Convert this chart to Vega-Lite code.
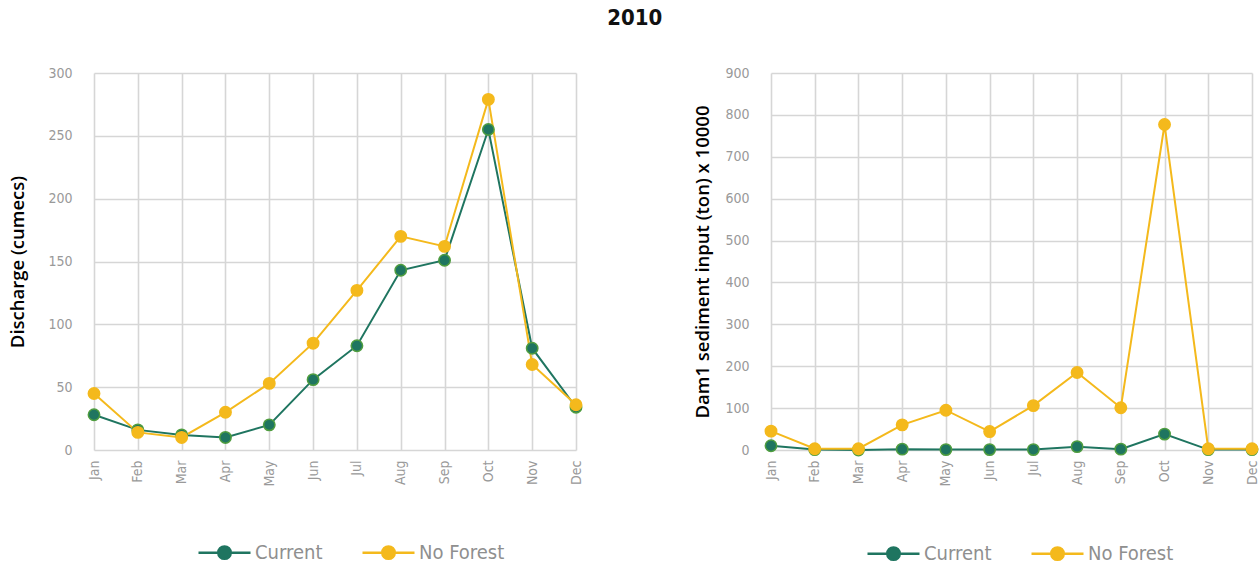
{
  "$schema": "https://vega.github.io/schema/vega-lite/v6.json",
  "background": "white",
  "padding": {"left": 8, "top": 7, "right": 5, "bottom": 5},
  "title": {"text": "2010", "fontSize": 22, "font": "DejaVu Sans Condensed", "fontWeight": "bold", "color": "#111111", "anchor": "middle", "offset": 36},
  "datasets": {
    "discharge": [
      {"month": "Jan", "series": "Current", "value": 28},
      {"month": "Feb", "series": "Current", "value": 16},
      {"month": "Mar", "series": "Current", "value": 12},
      {"month": "Apr", "series": "Current", "value": 10},
      {"month": "May", "series": "Current", "value": 20},
      {"month": "Jun", "series": "Current", "value": 56},
      {"month": "Jul", "series": "Current", "value": 83},
      {"month": "Aug", "series": "Current", "value": 143},
      {"month": "Sep", "series": "Current", "value": 151},
      {"month": "Oct", "series": "Current", "value": 255},
      {"month": "Nov", "series": "Current", "value": 81},
      {"month": "Dec", "series": "Current", "value": 34},
      {"month": "Jan", "series": "No Forest", "value": 45},
      {"month": "Feb", "series": "No Forest", "value": 14},
      {"month": "Mar", "series": "No Forest", "value": 10},
      {"month": "Apr", "series": "No Forest", "value": 30},
      {"month": "May", "series": "No Forest", "value": 53},
      {"month": "Jun", "series": "No Forest", "value": 85},
      {"month": "Jul", "series": "No Forest", "value": 127},
      {"month": "Aug", "series": "No Forest", "value": 170},
      {"month": "Sep", "series": "No Forest", "value": 162},
      {"month": "Oct", "series": "No Forest", "value": 279},
      {"month": "Nov", "series": "No Forest", "value": 68},
      {"month": "Dec", "series": "No Forest", "value": 36}
    ],
    "sediment": [
      {"month": "Jan", "series": "Current", "value": 10},
      {"month": "Feb", "series": "Current", "value": 1},
      {"month": "Mar", "series": "Current", "value": 0},
      {"month": "Apr", "series": "Current", "value": 2},
      {"month": "May", "series": "Current", "value": 1},
      {"month": "Jun", "series": "Current", "value": 1},
      {"month": "Jul", "series": "Current", "value": 1},
      {"month": "Aug", "series": "Current", "value": 8},
      {"month": "Sep", "series": "Current", "value": 2},
      {"month": "Oct", "series": "Current", "value": 38},
      {"month": "Nov", "series": "Current", "value": 1},
      {"month": "Dec", "series": "Current", "value": 1},
      {"month": "Jan", "series": "No Forest", "value": 45},
      {"month": "Feb", "series": "No Forest", "value": 3},
      {"month": "Mar", "series": "No Forest", "value": 3},
      {"month": "Apr", "series": "No Forest", "value": 60},
      {"month": "May", "series": "No Forest", "value": 95},
      {"month": "Jun", "series": "No Forest", "value": 44},
      {"month": "Jul", "series": "No Forest", "value": 106},
      {"month": "Aug", "series": "No Forest", "value": 185},
      {"month": "Sep", "series": "No Forest", "value": 101},
      {"month": "Oct", "series": "No Forest", "value": 777},
      {"month": "Nov", "series": "No Forest", "value": 3},
      {"month": "Dec", "series": "No Forest", "value": 3}
    ]
  },
  "spacing": 108,
  "resolve": {"scale": {"color": "independent", "stroke": "independent"}, "legend": {"color": "independent"}},
  "hconcat": [
    {
      "width": 482,
      "height": 377,
      "data": {"name": "discharge"},
      "encoding": {
        "x": {"field": "month", "type": "ordinal", "sort": ["Jan","Feb","Mar","Apr","May","Jun","Jul","Aug","Sep","Oct","Nov","Dec"], "scale": {"type": "point", "padding": 0}, "axis": {"title": null, "labelAngle": 270, "labelPadding": 10, "grid": true}},
        "y": {"field": "value", "type": "quantitative", "scale": {"domain": [0, 300], "nice": false}, "axis": {"title": "Discharge (cumecs)", "values": [0,50,100,150,200,250,300], "titlePadding": 20}},
        "color": {"field": "series", "type": "nominal", "scale": {"domain": ["Current", "No Forest"], "range": ["#1f7560", "#f4b91c"]},
          "legend": {"title": null, "orient": "none", "direction": "horizontal", "legendX": 103, "legendY": 452,
            "symbolType": "M-1,0L-0.24,0M0.24,0L1,0M0.24,0A0.24,0.24 0 1,1 -0.24,0A0.24,0.24 0 1,1 0.24,0",
            "symbolSize": 2704, "symbolStrokeWidth": 2.5, "labelFontSize": 20, "labelColor": "#8f8f8f", "labelOffset": 3, "columnPadding": 34}}
      },
      "layer": [
        {"mark": {"type": "line", "strokeWidth": 2}},
        {"mark": {"type": "point", "filled": true, "size": 130, "opacity": 1, "strokeWidth": 1.5},
          "encoding": {"stroke": {"field": "series", "type": "nominal", "scale": {"domain": ["Current", "No Forest"], "range": ["#4f9d3f", "#f4b91c"]}, "legend": null}}}
      ]
    },
    {
      "width": 481,
      "height": 377,
      "data": {"name": "sediment"},
      "encoding": {
        "x": {"field": "month", "type": "ordinal", "sort": ["Jan","Feb","Mar","Apr","May","Jun","Jul","Aug","Sep","Oct","Nov","Dec"], "scale": {"type": "point", "padding": 0}, "axis": {"title": null, "labelAngle": 270, "labelPadding": 10, "grid": true}},
        "y": {"field": "value", "type": "quantitative", "scale": {"domain": [0, 900], "nice": false}, "axis": {"title": "Dam1 sediment input (ton) x 10000", "values": [0,100,200,300,400,500,600,700,800,900], "titlePadding": 12}},
        "color": {"field": "series", "type": "nominal", "scale": {"domain": ["Current", "No Forest"], "range": ["#1f7560", "#f4b91c"]},
          "legend": {"title": null, "orient": "none", "direction": "horizontal", "legendX": 95, "legendY": 453,
            "symbolType": "M-1,0L-0.24,0M0.24,0L1,0M0.24,0A0.24,0.24 0 1,1 -0.24,0A0.24,0.24 0 1,1 0.24,0",
            "symbolSize": 2704, "symbolStrokeWidth": 2.5, "labelFontSize": 20, "labelColor": "#8f8f8f", "labelOffset": 3, "columnPadding": 34}}
      },
      "layer": [
        {"mark": {"type": "line", "strokeWidth": 2}},
        {"mark": {"type": "point", "filled": true, "size": 130, "opacity": 1, "strokeWidth": 1.5},
          "encoding": {"stroke": {"field": "series", "type": "nominal", "scale": {"domain": ["Current", "No Forest"], "range": ["#4f9d3f", "#f4b91c"]}, "legend": null}}}
      ]
    }
  ],
  "config": {
    "font": "DejaVu Sans Condensed",
    "view": {"stroke": null},
    "axis": {
      "labelFont": "DejaVu Sans Condensed",
      "labelFontSize": 14,
      "labelColor": "#999999",
      "gridColor": "#d6d6d6",
      "gridWidth": 1.6,
      "domain": false,
      "ticks": false,
      "titleFont": "Open Sans",
      "titleFontSize": 18.5,
      "titleFontWeight": 600,
      "titleColor": "#000000"
    },
    "axisY": {"labelPadding": 22},
    "legend": {"labelFont": "DejaVu Sans Condensed"}
  }
}
